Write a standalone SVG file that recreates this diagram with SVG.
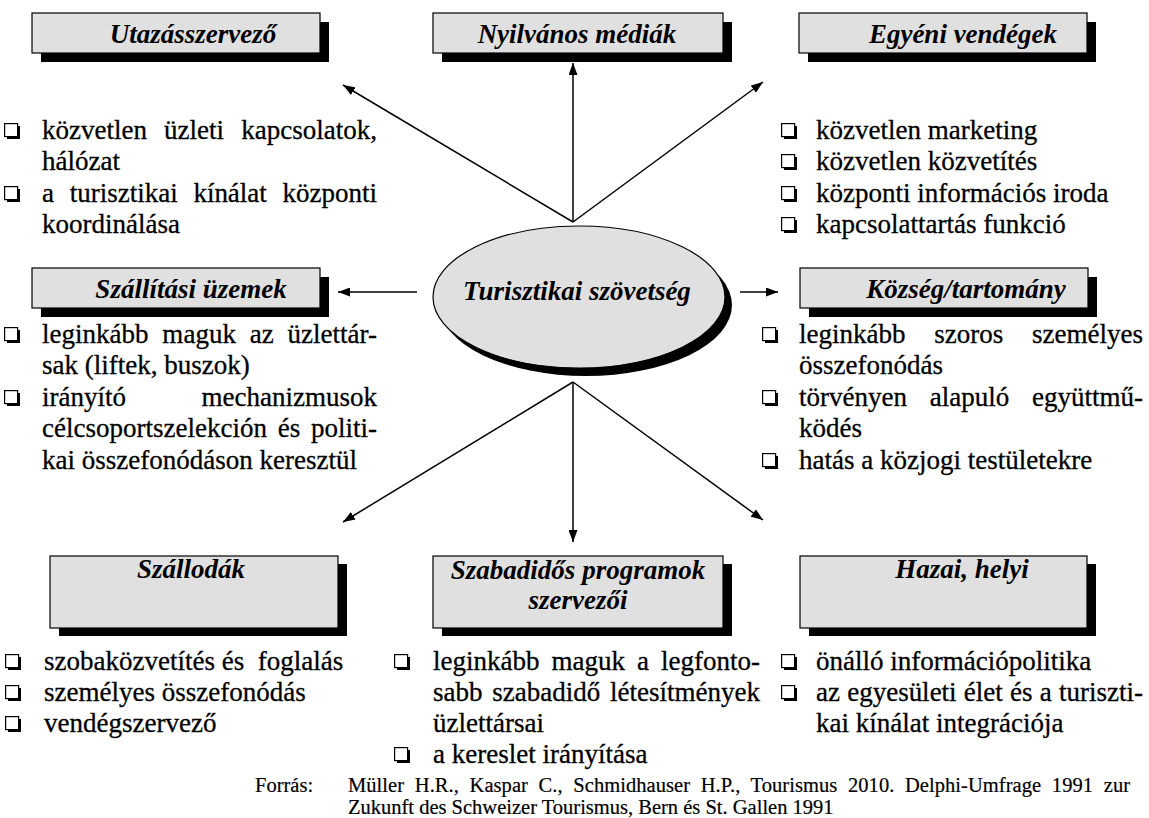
<svg xmlns="http://www.w3.org/2000/svg" xmlns:xlink="http://www.w3.org/1999/xlink" width="1149" height="818" viewBox="0 0 1149 818">
<style>
.box{fill:#e0e0e0;stroke:#000;stroke-width:1.2}
.sh{fill:#000}
.t{font-family:"Liberation Serif","Times New Roman",serif;font-size:27px;font-weight:bold;font-style:italic;text-anchor:middle;fill:#000}
.l{font-family:"Liberation Serif","Times New Roman",serif;font-size:27px;fill:#000;stroke:#000;stroke-width:0.3}
.f{font-family:"Liberation Serif","Times New Roman",serif;font-size:20.5px;fill:#000;stroke:#000;stroke-width:0.2}
.c{stroke:#000;stroke-width:1.5;fill:none;marker-end:url(#ah)}
</style>
<defs>
<marker id="ah" viewBox="0 0 12 9" refX="12" refY="4.5" markerWidth="12" markerHeight="9" markerUnits="userSpaceOnUse" orient="auto"><path d="M0,0 L12,4.5 L0,9 z" fill="#000"/></marker>
<g id="b"><rect x="3" y="3" width="13" height="13" fill="#000"/><rect x="0.6" y="0.6" width="13" height="13" fill="#fff" stroke="#000" stroke-width="1.2"/></g>
</defs>
<rect width="1149" height="818" fill="#fff"/>

<g id="connectors">
<polyline class="c" points="573,222 573,63"/>
<polyline class="c" points="573,222 343,85"/>
<polyline class="c" points="573,222 763,82"/>
<polyline class="c" points="573,382 573,542"/>
<polyline class="c" points="573,382 343,522"/>
<polyline class="c" points="573,382 763,520"/>
<polyline class="c" points="417,292 338,292"/>
<polyline class="c" points="740,292 778,292"/>
</g>

<g id="center">
<ellipse cx="586" cy="305" rx="146" ry="71" class="sh"/>
<ellipse cx="579" cy="297" rx="146" ry="71" class="box"/>
<text class="t" x="577" y="300">Turisztikai szövetség</text>
</g>

<g id="utazasszervezo">
<rect x="41" y="22" width="288" height="40" class="sh"/>
<rect x="32" y="13" width="288" height="40" class="box"/>
<text class="t" x="193" y="43">Utazásszervező</text>
<use xlink:href="#b" x="4" y="123"/>
<text class="l" x="42" y="139" word-spacing="10.4" textLength="335" lengthAdjust="spacing">közvetlen üzleti kapcsolatok,</text>
<text class="l" x="42" y="170">hálózat</text>
<use xlink:href="#b" x="4" y="186"/>
<text class="l" x="42" y="202" word-spacing="9" textLength="335" lengthAdjust="spacing">a turisztikai kínálat központi</text>
<text class="l" x="42" y="233">koordinálása</text>
</g>

<g id="nyilvanos-mediak">
<rect x="442" y="22" width="290" height="40" class="sh"/>
<rect x="433" y="13" width="290" height="40" class="box"/>
<text class="t" x="577" y="43">Nyilvános médiák</text>
</g>

<g id="egyeni-vendegek">
<rect x="808" y="22" width="288" height="40" class="sh"/>
<rect x="799" y="13" width="288" height="40" class="box"/>
<text class="t" x="963" y="43">Egyéni vendégek</text>
<use xlink:href="#b" x="781" y="123"/>
<text class="l" x="816" y="139">közvetlen marketing</text>
<use xlink:href="#b" x="781" y="154"/>
<text class="l" x="816" y="170">közvetlen közvetítés</text>
<use xlink:href="#b" x="781" y="186"/>
<text class="l" x="816" y="202">központi információs iroda</text>
<use xlink:href="#b" x="781" y="217"/>
<text class="l" x="816" y="233">kapcsolattartás funkció</text>
</g>

<g id="szallitasi-uzemek">
<rect x="41" y="277" width="288" height="40" class="sh"/>
<rect x="32" y="268" width="288" height="40" class="box"/>
<text class="t" x="191" y="298">Szállítási üzemek</text>
<use xlink:href="#b" x="4" y="327"/>
<text class="l" x="42" y="343" word-spacing="7" textLength="335" lengthAdjust="spacing">leginkább maguk az üzlettár-</text>
<text class="l" x="42" y="374">sak (liftek, buszok)</text>
<use xlink:href="#b" x="4" y="390"/>
<text class="l" x="42" y="406">irányító</text>
<text class="l" x="377" y="406" text-anchor="end">mechanizmusok</text>
<text class="l" x="42" y="437" word-spacing="4" textLength="335" lengthAdjust="spacing">célcsoportszelekción és politi-</text>
<text class="l" x="42" y="469">kai összefonódáson keresztül</text>
</g>

<g id="kozseg-tartomany">
<rect x="809" y="277" width="288" height="40" class="sh"/>
<rect x="800" y="268" width="288" height="40" class="box"/>
<text class="t" x="966" y="298">Község/tartomány</text>
<use xlink:href="#b" x="762" y="327"/>
<text class="l" x="799" y="343" word-spacing="22" textLength="344" lengthAdjust="spacing">leginkább szoros személyes</text>
<text class="l" x="799" y="374">összefonódás</text>
<use xlink:href="#b" x="762" y="390"/>
<text class="l" x="799" y="406" word-spacing="16" textLength="344" lengthAdjust="spacing">törvényen alapuló együttmű-</text>
<text class="l" x="799" y="437">ködés</text>
<use xlink:href="#b" x="762" y="453"/>
<text class="l" x="799" y="469">hatás a közjogi testületekre</text>
</g>

<g id="szallodak">
<rect x="59" y="564" width="288" height="72" class="sh"/>
<rect x="50" y="556" width="288" height="72" class="box"/>
<text class="t" x="191" y="578">Szállodák</text>
<use xlink:href="#b" x="5" y="654"/>
<text class="l" x="44" y="670" xml:space="preserve">szobaközvetítés és  foglalás</text>
<use xlink:href="#b" x="5" y="685"/>
<text class="l" x="44" y="701">személyes összefonódás</text>
<use xlink:href="#b" x="5" y="716"/>
<text class="l" x="44" y="732">vendégszervező</text>
</g>

<g id="szabadidos-programok">
<rect x="442" y="564" width="290" height="72" class="sh"/>
<rect x="433" y="556" width="290" height="72" class="box"/>
<text class="t" x="578" y="579">Szabadidős programok</text>
<text class="t" x="578" y="609">szervezői</text>
<use xlink:href="#b" x="394" y="654"/>
<text class="l" x="433" y="670" word-spacing="5.3" textLength="327" lengthAdjust="spacing">leginkább maguk a legfonto-</text>
<text class="l" x="433" y="701" word-spacing="3" textLength="327" lengthAdjust="spacing">sabb szabadidő létesítmények</text>
<text class="l" x="433" y="732">üzlettársai</text>
<use xlink:href="#b" x="394" y="747"/>
<text class="l" x="433" y="763">a kereslet irányítása</text>
</g>

<g id="hazai-helyi">
<rect x="809" y="564" width="287" height="72" class="sh"/>
<rect x="800" y="556" width="287" height="72" class="box"/>
<text class="t" x="962" y="578">Hazai, helyi</text>
<use xlink:href="#b" x="781" y="654"/>
<text class="l" x="816" y="670">önálló információpolitika</text>
<use xlink:href="#b" x="781" y="685"/>
<text class="l" x="816" y="701" word-spacing="0.5" textLength="327" lengthAdjust="spacing">az egyesületi élet és a turiszti-</text>
<text class="l" x="816" y="732">kai kínálat integrációja</text>
</g>

<g id="forras">
<text class="f" x="255" y="792">Forrás:</text>
<text class="f" x="348" y="792" word-spacing="5.5" textLength="782" lengthAdjust="spacing">Müller H.R., Kaspar C., Schmidhauser H.P., Tourismus 2010. Delphi-Umfrage 1991 zur</text>
<text class="f" x="348" y="814">Zukunft des Schweizer Tourismus, Bern és St. Gallen 1991</text>
</g>
</svg>
